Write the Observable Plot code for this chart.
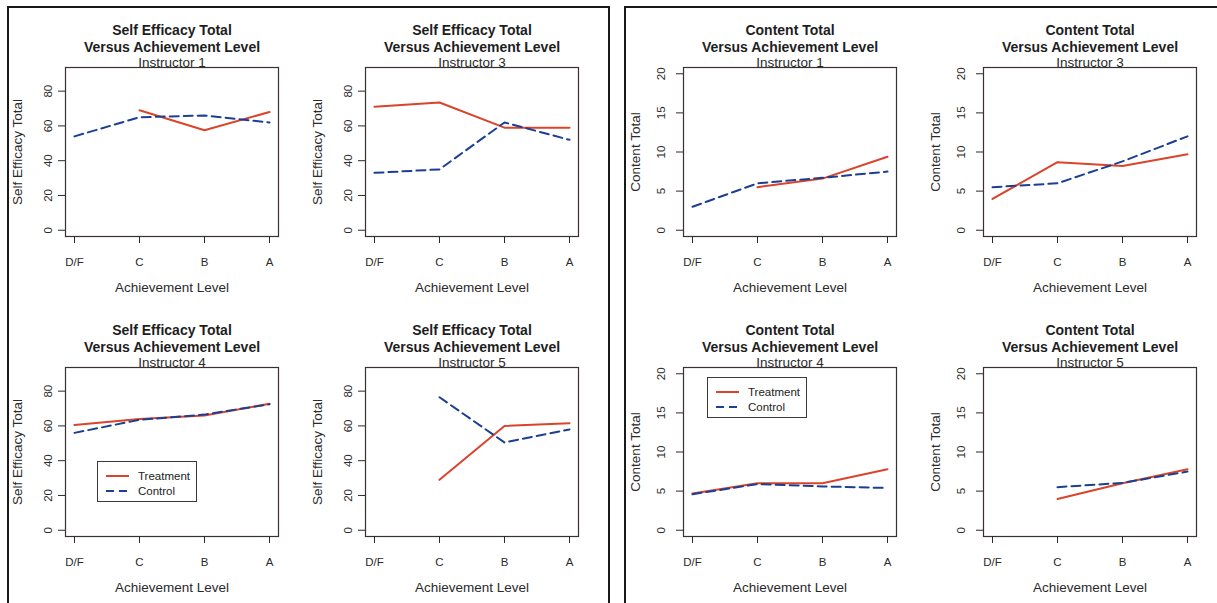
<!DOCTYPE html>
<html><head><meta charset="utf-8">
<script src="https://cdn.jsdelivr.net/npm/d3@7"></script>
<script src="https://cdn.jsdelivr.net/npm/@observablehq/plot@0.6"></script>
<style>
body{margin:0;background:#fff;}
#root{position:relative;width:1217px;height:603px;overflow:hidden;background:#fff;font-family:"Liberation Sans",Arial,Helvetica,sans-serif;}
.cell{position:absolute;}
.panel{position:absolute;top:6px;height:700px;box-sizing:border-box;border-top:2px solid #1a1a1a;border-left:2px solid #1a1a1a;pointer-events:none;}
.legend{position:absolute;box-sizing:border-box;border:1.5px solid #3a3a3a;background:#fff;font-size:11.5px;color:#222;width:100px;height:41px;}
.legend .row{position:absolute;left:0;height:14px;display:flex;align-items:center;}
.legend svg{margin-left:8px;margin-right:9px;}
</style>
</head><body><div id="root"></div>
<script>
const levels = ["D/F", "C", "B", "A"];
const groups = ["Treatment", "Control"];
const seTitle = "Self Efficacy Total";
const ctTitle = "Content Total";
const subTitle = "Versus Achievement Level";
const xLabel = "Achievement Level";
const seYLim = [0, 90];
const ctYLim = [0, 20];
const seTicks = [0, 20, 40, 60, 80];
const ctTicks = [0, 5, 10, 15, 20];

// Self Efficacy values by level (D/F, C, B, A)
const seI1Treatment = [null, 69, 57.5, 68];
const seI1Control   = [54, 65, 66, 62];
const seI3Treatment = [71, 73.5, 59, 59];
const seI3Control   = [33, 35, 62, 52];
const seI4Treatment = [60.5, 64, 66, 72.7];
const seI4Control   = [56, 63.5, 66.5, 72.5];
const seI5Treatment = [null, 29, 60, 61.5];
const seI5Control   = [null, 76.5, 50.5, 58];
// Content values by level (D/F, C, B, A)
const ctI1Treatment = [null, 5.5, 6.6, 9.4];
const ctI1Control   = [3, 6, 6.7, 7.5];
const ctI3Treatment = [4, 8.7, 8.2, 9.7];
const ctI3Control   = [5.5, 6, 8.8, 12];
const ctI4Treatment = [4.7, 6, 6, 7.8];
const ctI4Control   = [4.6, 5.9, 5.6, 5.4];
const ctI5Treatment = [null, 4, 6, 7.8];
const ctI5Control   = [null, 5.5, 6.05, 7.5];

const treatColor = "#d9442a";
const ctrlColor = "#1c3f94";
const textColor = "#2a2a2a";

function chart(o) {
  const rows = [];
  levels.forEach((lv, i) => {
    rows.push({level: lv, value: o.treat[i], group: groups[0]});
    rows.push({level: lv, value: o.ctrl[i], group: groups[1]});
  });
  const pad = (o.ylim[1] - o.ylim[0]) * 0.04;
  return Plot.plot({
    width: o.width, height: o.height,
    marginLeft: o.ml, marginRight: o.width - o.ml - 213, marginTop: 67, marginBottom: o.height - 236,
    style: {fontFamily: '"Liberation Sans", Arial, Helvetica, sans-serif', fontSize: "11px", color: textColor, background: "transparent", overflow: "visible"},
    x: {type: "point", domain: levels, padding: 0.12},
    y: {domain: [o.ylim[0] - pad, o.ylim[1] + pad]},
    marks: [
      Plot.frame({stroke: "#3a3030", strokeWidth: 1.2}),
      Plot.axisX({tickSize: 7, tickPadding: 14, fontSize: 11.5, label: null}),
      Plot.axisY({ticks: o.ticks, tickSize: 7, tickPadding: o.ytp, tickRotate: -90, textAnchor: "middle", lineAnchor: "middle", fontSize: 11.5, label: null}),
      Plot.line(rows.filter(d => d.group === groups[0]), {x: "level", y: "value", stroke: treatColor, strokeWidth: 2}),
      Plot.line(rows.filter(d => d.group === groups[1]), {x: "level", y: "value", stroke: ctrlColor, strokeWidth: 2, strokeDasharray: "9,5"}),
      Plot.text([o.title], {frameAnchor: "top", lineAnchor: "middle", dy: -37, fontWeight: "bold", fontSize: 14, fill: "#1e1e1e"}),
      Plot.text([subTitle], {frameAnchor: "top", lineAnchor: "middle", dy: -20, fontWeight: "bold", fontSize: 14, fill: "#1e1e1e"}),
      Plot.text([o.sub], {frameAnchor: "top", lineAnchor: "middle", dy: -5, fontSize: 13.5, fill: textColor}),
      Plot.text([xLabel], {frameAnchor: "bottom", lineAnchor: "middle", dy: 51, fontSize: 13.5, fill: textColor}),
      Plot.text([o.title], {frameAnchor: "left", textAnchor: "middle", lineAnchor: "middle", dx: -48, rotate: -90, fontSize: 13.5, fill: textColor})
    ]
  });
}

const root = document.getElementById("root");
function place(node, left, top) {
  const d = document.createElement("div");
  d.className = "cell";
  d.style.left = left + "px"; d.style.top = top + "px";
  d.appendChild(node);
  root.appendChild(d);
  return d;
}
function legend(left, top) {
  const lg = document.createElement("div");
  lg.className = "legend";
  lg.style.left = left + "px"; lg.style.top = top + "px";
  groups.forEach((g, i) => {
    const r = document.createElement("div");
    r.className = "row";
    r.style.top = (7 + i * 15) + "px";
    const dash = i === 1 ? 'stroke-dasharray="8,5"' : '';
    r.innerHTML = `<svg width="23" height="6"><line x1="0" x2="23" y1="3" y2="3" stroke="${i === 0 ? treatColor : ctrlColor}" stroke-width="2" ${dash}/></svg><span>${g}</span>`;
    lg.appendChild(r);
  });
  root.appendChild(lg);
}

const se = {title: seTitle, ylim: seYLim, ticks: seTicks, ml: 65, ytp: 10, width: 300};
const ct = {title: ctTitle, ylim: ctYLim, ticks: ctTicks, ml: 73, ytp: 15, width: 300};

place(chart({...se, sub: "Instructor 1", treat: seI1Treatment, ctrl: seI1Control, height: 300}), 0, 0);
place(chart({...se, sub: "Instructor 3", treat: seI3Treatment, ctrl: seI3Control, height: 300}), 300, 0);
place(chart({...se, sub: "Instructor 4", treat: seI4Treatment, ctrl: seI4Control, height: 303}), 0, 300);
place(chart({...se, sub: "Instructor 5", treat: seI5Treatment, ctrl: seI5Control, height: 303}), 300, 300);
place(chart({...ct, sub: "Instructor 1", treat: ctI1Treatment, ctrl: ctI1Control, height: 300}), 610, 0);
place(chart({...ct, sub: "Instructor 3", treat: ctI3Treatment, ctrl: ctI3Control, height: 300}), 910, 0);
place(chart({...ct, sub: "Instructor 4", treat: ctI4Treatment, ctrl: ctI4Control, height: 303}), 610, 300);
place(chart({...ct, sub: "Instructor 5", treat: ctI5Treatment, ctrl: ctI5Control, height: 303, width: 307}), 910, 300);

legend(97, 461);
legend(707, 377);

const p1 = document.createElement("div");
p1.className = "panel";
p1.style.left = "7px"; p1.style.width = "603px"; p1.style.borderRight = "2px solid #1a1a1a";
root.appendChild(p1);
const p2 = document.createElement("div");
p2.className = "panel";
p2.style.left = "624px"; p2.style.width = "700px";
root.appendChild(p2);
</script>
</body></html>
